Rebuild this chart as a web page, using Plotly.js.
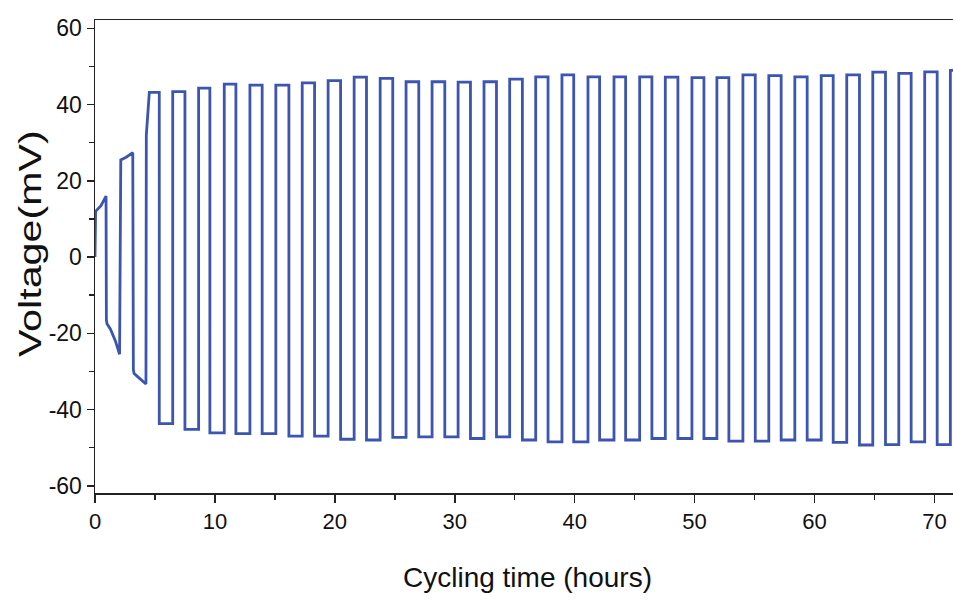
<!DOCTYPE html>
<html>
<head>
<meta charset="utf-8">
<script src="https://cdn.plot.ly/plotly-3.0.1.min.js"></script>
<style>
  html, body { margin: 0; padding: 0; background: #fff; }
  #chart { width: 953px; height: 603px; }
</style>
</head>
<body>
<div id="chart"></div>
<script>
// ---- Data (hours, mV) ----
// Formation part before the regular cycling
const startTime    = [0, 0, 0.05, 0.5, 0.92, 0.95, 1.0, 1.3, 1.7, 2.05, 2.1, 2.15, 2.6, 3.15, 3.2, 3.25, 3.6, 4.0, 4.25, 4.28, 4.35];
const startVoltage = [0, 11, 12, 13.5, 16, -16.5, -17.5, -19, -22, -25.5, 24.5, 25.5, 26.2, 27.4, -29.5, -30.5, -31.5, -32.5, -33.3, 32, 35];

// Regular cycling: times where the voltage jumps up / down
const riseTime = [4.53, 6.48, 8.64, 10.78, 12.92, 15.08, 17.28, 19.44, 21.61, 23.78,
                  25.94, 28.11, 30.28, 32.44, 34.58, 36.75, 38.94, 41.11, 43.28, 45.42,
                  47.56, 49.78, 51.86, 54.03, 56.19, 58.36, 60.56, 62.69, 64.86, 67.03,
                  69.19, 71.33];
const topLevel = [43.2, 43.4, 44.3, 45.4, 45.1, 45.1, 45.7, 46.3, 47.2, 46.9,
                  46.0, 46.0, 45.9, 46.0, 46.7, 47.3, 47.8, 47.3, 47.3, 47.3,
                  47.2, 47.1, 47.1, 47.8, 47.6, 47.3, 47.6, 47.8, 48.5, 48.2,
                  48.6, 49.0];
const fallTime = [5.36, 7.5, 9.58, 11.75, 13.94, 16.17, 18.31, 20.48, 22.64, 24.83,
                  27.0, 29.17, 31.31, 33.48, 35.64, 37.78, 39.92, 42.08, 44.25, 46.44,
                  48.61, 50.78, 52.86, 55.06, 57.22, 59.39, 61.56, 63.75, 65.92, 68.06,
                  70.23];
const bottomLevel = [-43.7, -45.2, -46.1, -46.3, -46.3, -47.0, -47.0, -47.8, -48.0, -47.3,
                     -47.2, -47.2, -47.6, -47.2, -48.0, -48.5, -48.5, -48.0, -48.0, -47.6,
                     -47.6, -47.6, -48.3, -48.3, -48.0, -48.0, -48.6, -49.3, -49.2, -48.5,
                     -49.2];
const endTime = 71.7;

const xTickVals = [0, 10, 20, 30, 40, 50, 60, 70];
const yTickVals = [-60, -40, -20, 0, 20, 40, 60];

// ---- Build the step path from the read edges ----
const t = startTime.slice();
const v = startVoltage.slice();
for (let i = 0; i < riseTime.length; i++) {
  t.push(riseTime[i]); v.push(topLevel[i]);
  const topEnd = i < fallTime.length ? fallTime[i] : endTime;
  t.push(topEnd); v.push(topLevel[i]);
  if (i < fallTime.length) {
    t.push(fallTime[i]); v.push(bottomLevel[i]);
    t.push(riseTime[i + 1]); v.push(bottomLevel[i]);
  }
}

const trace = {
  x: t, y: v, type: 'scatter', mode: 'lines',
  line: { color: '#3b55b1', width: 2.8 },
  hoverinfo: 'x+y'
};

const fontFam = '"Liberation Sans", Arial, Helvetica, sans-serif';
const layout = {
  width: 953, height: 603,
  margin: { l: 95, r: 0, t: 20, b: 110 },
  paper_bgcolor: '#ffffff', plot_bgcolor: '#ffffff',
  showlegend: false,
  font: { family: fontFam, color: '#111', size: 20 },
  xaxis: {
    range: [0, 71.55], showgrid: false, zeroline: false,
    showline: true, linecolor: '#222', linewidth: 1.5, mirror: true,
    ticks: 'outside', ticklen: 8, tickwidth: 1.5, tickcolor: '#222',
    tickvals: xTickVals, ticktext: xTickVals.map(String),
    tickfont: { family: fontFam, size: 22, color: '#111' },
    minor: { dtick: 5, tick0: 0, ticks: 'outside', ticklen: 5, tickwidth: 1.5, tickcolor: '#222', showgrid: false },
    title: { text: '' }
  },
  yaxis: {
    range: [-61.9, 62.2], showgrid: false, zeroline: false,
    showline: true, linecolor: '#222', linewidth: 1.5, mirror: false,
    ticks: 'outside', ticklen: 7, tickwidth: 1.5, tickcolor: '#222',
    tickvals: yTickVals, ticktext: yTickVals.map(String),
    tickfont: { family: fontFam, size: 23, color: '#111' },
    minor: { dtick: 10, tick0: 0, ticks: 'outside', ticklen: 5, tickwidth: 1.5, tickcolor: '#222', showgrid: false },
    title: { text: '' }
  },
  annotations: [
    { text: 'Cycling time (hours)', xref: 'paper', yref: 'paper',
      x: 0.5035, y: -0.1776, xanchor: 'center', yanchor: 'middle', showarrow: false,
      font: { family: fontFam, size: 28, color: '#111' } },
    { text: 'Voltage(mV)', xref: 'paper', yref: 'paper', textangle: -90,
      x: -0.0758, y: 0.5285, xanchor: 'center', yanchor: 'middle', showarrow: false,
      font: { family: fontFam, size: 31, color: '#111' } }
  ]
};

Plotly.newPlot('chart', [trace], layout, { displayModeBar: false, staticPlot: true }).then(function () {
  // The reference's axis title is stretched along its length; mimic it.
  document.querySelectorAll('#chart text.annotation-text').forEach(function (el) {
    if (el.textContent === 'Voltage(mV)') {
      el.style.transformBox = 'fill-box';
      el.style.transformOrigin = 'center';
      el.style.transform = 'scaleX(1.33)';
    }
  });
});
</script>
</body>
</html>
